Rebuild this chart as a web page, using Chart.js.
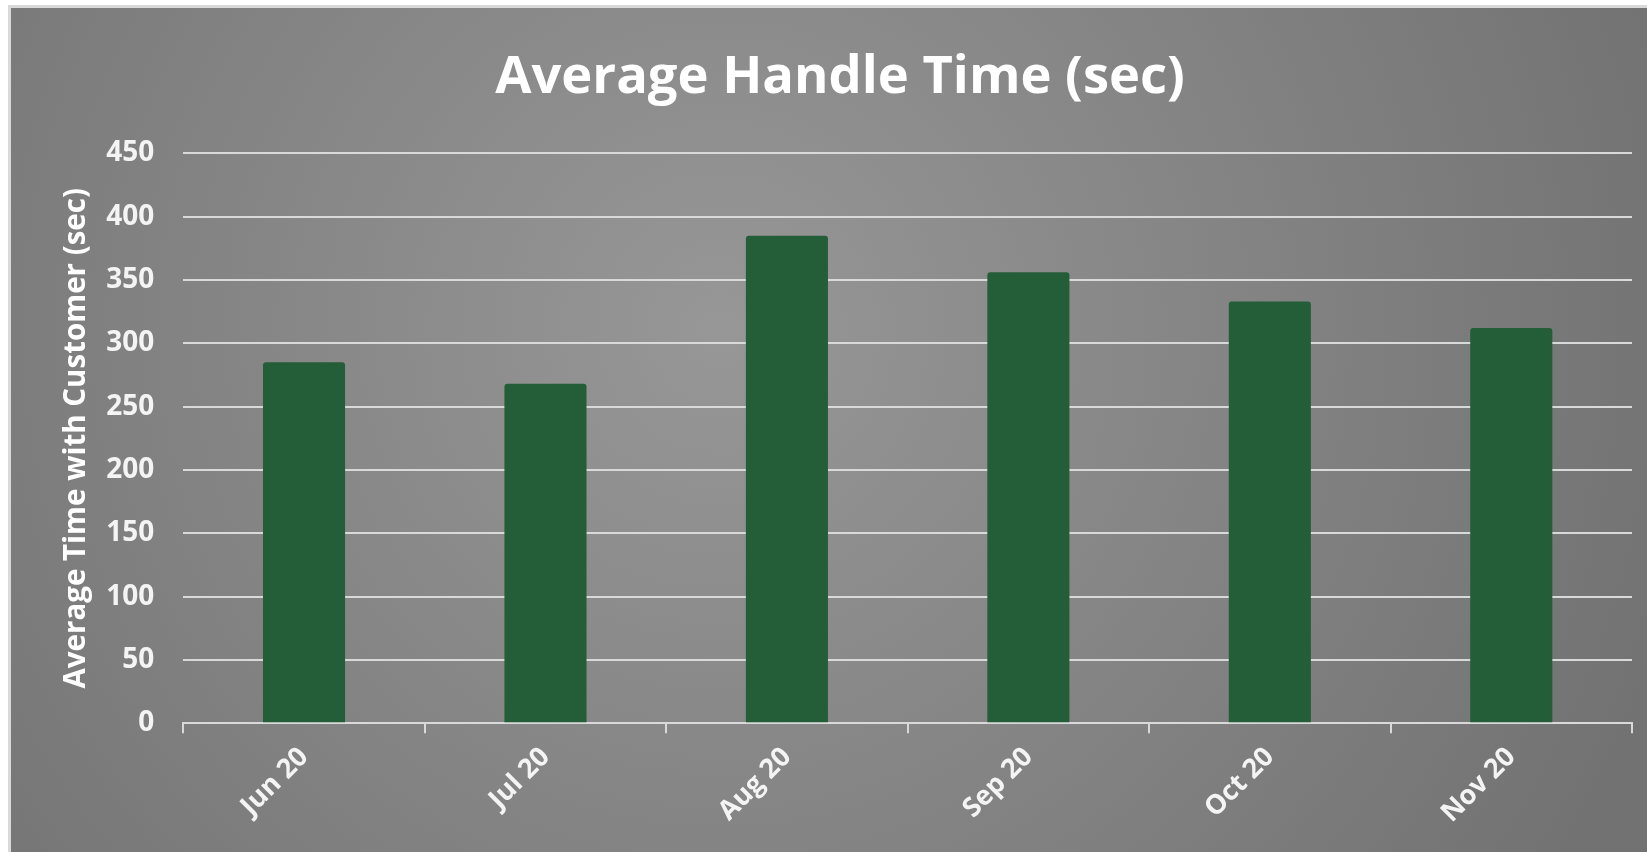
<!DOCTYPE html>
<html><head><meta charset="utf-8">
<script src="https://cdn.jsdelivr.net/npm/chart.js@4/dist/chart.umd.min.js"></script>
<style>html,body{margin:0;padding:0;background:#fff;overflow:hidden}#wrap{width:1647px;height:852px;position:relative}</style>
</head><body><div id="wrap"><canvas id="c" width="1647" height="852"></canvas></div>
<script>
const categories = ['Jun 20', 'Jul 20', 'Aug 20', 'Sep 20', 'Oct 20', 'Nov 20'];
const avgHandleTime = [285, 268, 385, 356, 333, 312];
const yTickValues = [0, 50, 100, 150, 200, 250, 300, 350, 400, 450];
const chartTitle = 'Average Handle Time (sec)';
const yAxisTitle = 'Average Time with Customer (sec)';

const FONT = "'Open Sans', 'DejaVu Sans', sans-serif";

const bgPlugin = {
  id: 'bg',
  beforeDraw(chart) {
    const ctx = chart.ctx, w = chart.width, h = chart.height;
    ctx.save();
    ctx.fillStyle = '#ffffff';
    ctx.fillRect(0, 0, w, h);
    const g = ctx.createRadialGradient(720, 330, 0, 720, 330, 1000);
    g.addColorStop(0, '#979797');
    g.addColorStop(1, '#727272');
    ctx.fillStyle = g;
    ctx.fillRect(10, 7, w - 10, h - 7);
    ctx.strokeStyle = '#d9d9d9';
    ctx.lineWidth = 3;
    ctx.beginPath();
    ctx.moveTo(9.5, h);
    ctx.lineTo(9.5, 6.5);
    ctx.lineTo(w, 6.5);
    ctx.stroke();
    ctx.restore();
  }
};

new Chart(document.getElementById('c'), {
  type: 'bar',
  data: {
    labels: categories,
    datasets: [{
      data: avgHandleTime,
      backgroundColor: '#245e39',
      borderRadius: {topLeft: 3, topRight: 3, bottomLeft: 0, bottomRight: 0},
      borderSkipped: 'bottom',
      barPercentage: 0.34,
      categoryPercentage: 1
    }]
  },
  options: {
    responsive: false,
    devicePixelRatio: 1,
    animation: false,
    layout: {padding: {left: 48, right: 15, top: 0, bottom: 0}},
    plugins: {
      legend: {display: false},
      tooltip: {enabled: false},
      title: {
        display: true,
        text: chartTitle,
        color: '#ffffff',
        font: {family: FONT, weight: 'bold', size: 52.5},
        padding: {top: 47, bottom: 43.3}
      }
    },
    scales: {
      x: {
        grid: {display: true, offset: true, drawOnChartArea: false, drawTicks: true, tickLength: 10, color: '#d9d9d9', lineWidth: 2},
        border: {display: true, color: '#d9d9d9', width: 2},
        ticks: {minRotation: 45, maxRotation: 45, padding: 8, color: '#f4f4f4', font: {family: FONT, weight: 'bold', size: 27}},
        afterFit(s) { s.height = 852 - 723.3; }
      },
      y: {
        min: 0, max: 450,
        afterBuildTicks(s) { s.ticks = yTickValues.map(v => ({value: v})); },
        grid: {color: '#d9d9d9', lineWidth: 2, drawTicks: false},
        border: {display: false},
        ticks: {padding: 29, color: '#f4f4f4', font: {family: FONT, weight: 'bold', size: 28}},
        title: {display: true, text: yAxisTitle, color: '#ffffff', font: {family: FONT, weight: 'bold', size: 29.5}, padding: {top: 11, bottom: 0}},
        afterFit(s) { s.width = 183.3 - 48; }
      }
    }
  },
  plugins: [bgPlugin]
});
</script></body></html>
